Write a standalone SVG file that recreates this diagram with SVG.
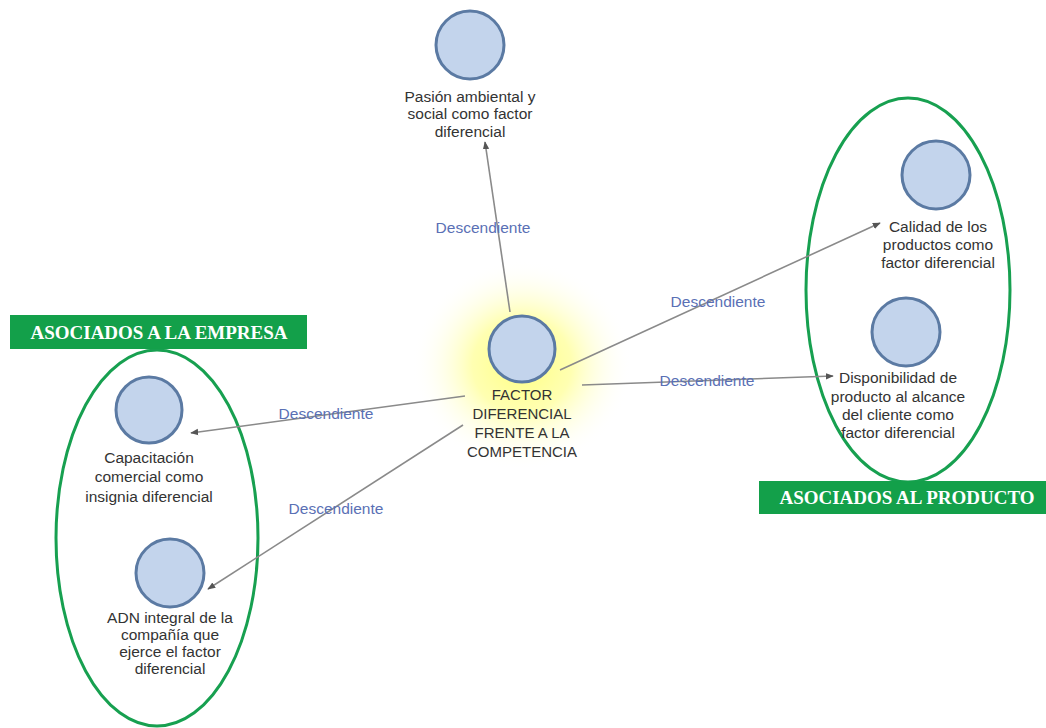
<svg xmlns="http://www.w3.org/2000/svg" width="1046" height="728" viewBox="0 0 1046 728">
<style>
.node circle{fill:#c3d4ec;stroke:#5b7aa3;stroke-width:3}
.nt{font-family:"Liberation Sans",Arial,sans-serif;font-size:15.5px;fill:#333;text-anchor:middle}
.ct{font-family:"Liberation Sans",Arial,sans-serif;font-size:15px;fill:#333;text-anchor:middle}
.lbl{font-family:"Liberation Sans",Arial,sans-serif;font-size:15.5px;fill:#5a70b5;text-anchor:middle}
.edge{stroke:#8a8a8a;stroke-width:1.6;fill:none;marker-end:url(#ah)}
.grp{fill:none;stroke:#17a050;stroke-width:3}
.tag rect{fill:#13a04a}
.tag text{font-family:"Liberation Serif","Times New Roman",serif;font-weight:bold;font-size:19px;fill:#fff;text-anchor:middle}
</style>
<defs>
<marker id="ah" viewBox="0 0 10 10" refX="9" refY="5" markerWidth="8" markerHeight="8" orient="auto" markerUnits="userSpaceOnUse">
<path d="M0,1 L10,5 L0,9 z" fill="#555"/>
</marker>
<radialGradient id="glow" cx="0.5" cy="0.5" r="0.5">
<stop offset="0" stop-color="#ffff80" stop-opacity="1"/>
<stop offset="0.45" stop-color="#ffff9e" stop-opacity="0.8"/>
<stop offset="1" stop-color="#ffffff" stop-opacity="0"/>
</radialGradient>
</defs>
<rect width="1046" height="728" fill="#fff"/>
<ellipse cx="522" cy="365" rx="110" ry="105" fill="url(#glow)"/>

<g id="groups">
<ellipse class="grp" cx="157" cy="538" rx="101" ry="188"/>
<ellipse class="grp" cx="908" cy="290" rx="102" ry="192"/>
</g>
<g id="tag-empresa" class="tag">
<rect x="10" y="315" width="297" height="34"/>
<text x="159" y="339">ASOCIADOS A LA EMPRESA</text>
</g>
<g id="tag-producto" class="tag">
<rect x="759" y="481" width="287" height="33"/>
<text x="907" y="504">ASOCIADOS AL PRODUCTO</text>
</g>

<g id="connectors">
<line class="edge" x1="510" y1="312" x2="485" y2="142"/>
<line class="edge" x1="560" y1="370" x2="880" y2="223"/>
<line class="edge" x1="582" y1="385" x2="833" y2="376"/>
<line class="edge" x1="465" y1="396" x2="191" y2="433"/>
<line class="edge" x1="463" y1="425" x2="208" y2="589"/>
<text class="lbl" x="483" y="233">Descendiente</text>
<text class="lbl" x="718" y="307">Descendiente</text>
<text class="lbl" x="707" y="386">Descendiente</text>
<text class="lbl" x="326" y="419">Descendiente</text>
<text class="lbl" x="336" y="514">Descendiente</text>
</g>

<g id="n-center" class="node">
<circle cx="522" cy="349" r="33"/>
<text class="ct" x="522" y="400">FACTOR</text>
<text class="ct" x="522" y="419">DIFERENCIAL</text>
<text class="ct" x="522" y="438">FRENTE A LA</text>
<text class="ct" x="522" y="457">COMPETENCIA</text>
</g>
<g id="n-pasion" class="node">
<circle cx="470" cy="45" r="34"/>
<text class="nt" x="470" y="102">Pasión ambiental y</text>
<text class="nt" x="470" y="119">social como factor</text>
<text class="nt" x="470" y="137">diferencial</text>
</g>
<g id="n-calidad" class="node">
<circle cx="936" cy="175" r="34"/>
<text class="nt" x="938" y="232">Calidad de los</text>
<text class="nt" x="938" y="250">productos como</text>
<text class="nt" x="938" y="268">factor diferencial</text>
</g>
<g id="n-disponibilidad" class="node">
<circle cx="906" cy="332" r="34"/>
<text class="nt" x="898" y="383">Disponibilidad de</text>
<text class="nt" x="898" y="402">producto al alcance</text>
<text class="nt" x="898" y="420">del cliente como</text>
<text class="nt" x="898" y="438">factor diferencial</text>
</g>
<g id="n-capacitacion" class="node">
<circle cx="149" cy="410" r="33"/>
<text class="nt" x="149" y="463">Capacitación</text>
<text class="nt" x="149" y="482">comercial como</text>
<text class="nt" x="149" y="502">insignia diferencial</text>
</g>
<g id="n-adn" class="node">
<circle cx="170" cy="573" r="34"/>
<text class="nt" x="170" y="623">ADN integral de la</text>
<text class="nt" x="170" y="640">compañía que</text>
<text class="nt" x="170" y="657">ejerce el factor</text>
<text class="nt" x="170" y="674">diferencial</text>
</g>
</svg>
